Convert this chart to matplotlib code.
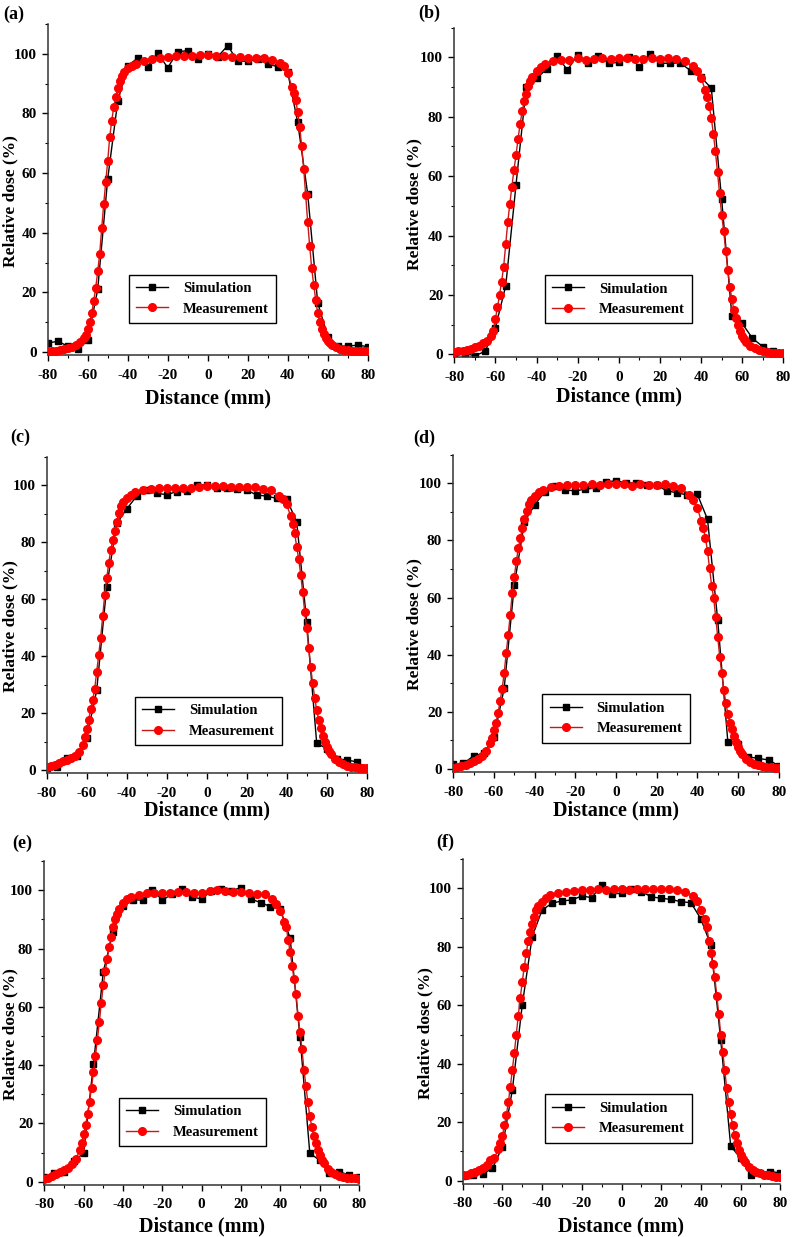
"""
plot.py
Dose profiles: simulation vs measurement, 6 panels (a)-(f)
"""

import matplotlib
matplotlib.use("Agg")
import matplotlib.pyplot as plt
from matplotlib.ticker import MultipleLocator

plt.rcParams['font.family'] = ['Liberation Serif', 'DejaVu Serif']
plt.rcParams['font.weight'] = 'bold'
plt.rcParams['axes.unicode_minus'] = False

# ===================== data =====================
PANEL_LABELS = ['(a)', '(b)', '(c)', '(d)', '(e)', '(f)']

# simulation sampled every 5 mm
x_sim = [-80, -75, -70, -65, -60, -55, -50, -45, -40, -35, -30, -25, -20, -15, -10, -5, 0,
         5, 10, 15, 20, 25, 30, 35, 40, 45, 50, 55, 60, 65, 70, 75, 80]

sim_a = [3.0, 3.6, 2.0, 1.0, 4.0, 21.0, 58.0, 84.0, 96.0, 98.5, 95.7, 100.3, 95.3, 100.7, 101.0, 98.2, 100.0,
         99.0, 102.7, 97.5, 97.5, 98.2, 96.5, 95.7, 93.8, 77.0, 53.0, 16.5, 5.2, 2.0, 2.0, 2.3, 1.8]
sim_b = [0.5, 0.3, -0.5, 1.0, 9.0, 23.0, 57.0, 90.0, 93.0, 96.0, 100.5, 95.7, 100.8, 98.0, 100.6, 98.0, 98.3,
         100.2, 96.9, 101.1, 98.0, 98.0, 98.0, 95.5, 93.3, 89.6, 52.3, 12.9, 10.4, 5.4, 2.6, 1.2, 0.3]
sim_c = [0.6, 1.2, 4.4, 4.9, 11.3, 28.0, 64.3, 86.5, 91.6, 96.1, 98.2, 97.1, 96.6, 97.7, 97.9, 100.0, 100.0,
         99.0, 98.8, 98.5, 98.2, 96.5, 96.1, 95.3, 95.0, 87.1, 52.0, 9.4, 7.5, 4.0, 3.5, 2.9, 0.6]
sim_d = [1.75, 2.0, 4.6, 5.5, 11.3, 28.2, 64.4, 86.6, 92.4, 97.1, 99.1, 97.7, 97.3, 98.0, 98.3, 100.6, 100.8,
         100.2, 100.0, 99.4, 99.4, 97.3, 96.7, 95.9, 96.1, 87.4, 52.2, 9.5, 8.8, 4.3, 3.7, 3.2, 1.2]
sim_e = [1.7, 2.9, 3.4, 7.2, 9.7, 40.4, 72.1, 85.8, 94.6, 96.7, 96.7, 100.1, 96.7, 98.7, 100.3, 97.8, 97.0,
         99.9, 100.3, 99.9, 100.9, 97.0, 95.8, 94.4, 93.5, 83.5, 49.8, 9.7, 7.4, 3.1, 3.4, 2.3, 1.7]
sim_f = [1.6, 1.9, 2.3, 4.2, 11.6, 31.0, 60.1, 83.5, 92.6, 94.9, 95.7, 96.0, 97.4, 96.8, 101.1, 98.1, 98.3,
         99.8, 98.9, 97.1, 96.6, 96.2, 95.4, 95.1, 89.5, 80.6, 48.1, 11.9, 7.6, 1.9, 2.7, 3.1, 2.7]

# measurement: dense on the penumbra, sparse on the plateau
x_meas = [-80, -78, -76, -74, -72, -70, -68, -66, -64, -62,
          -61, -60, -59, -58, -57, -56, -55, -54, -53, -52, -51, -50, -49, -48, -47, -46, -45, -44, -43,
          -42, -40, -38, -36,
          -32, -28, -24, -20, -16, -12, -8, -4, 0, 4, 8, 12, 16, 20, 24, 28, 32,
          36, 38, 40, 42,
          43, 44, 45, 46, 47, 48, 49, 50, 51, 52, 53, 54, 55, 56, 57, 58, 59, 60, 61,
          62, 64, 66, 68, 70, 72, 74, 76, 78, 80]

meas_a = [0.3, 0.4, 0.5, 0.7, 1.0, 1.3, 1.8, 2.5, 3.5, 4.8,
          5.8, 7.8, 10.2, 13.0, 17.0, 21.5, 27.0, 33.0, 41.5, 49.5, 57.0, 64.0, 72.0, 77.5, 82.0, 85.5, 88.5, 90.8, 92.6,
          93.8, 95.3, 96.0, 96.6,
          97.7, 98.3, 98.5, 99.0, 99.2, 99.3, 99.2, 99.6, 99.5, 99.3, 99.4, 99.0, 98.8, 98.6, 98.6, 98.5, 97.8,
          96.8, 96.0, 93.5, 89.0,
          87.0, 84.5, 80.5, 75.5, 69.0, 61.5, 52.5, 43.5, 35.5, 28.0, 22.5, 17.5, 13.0, 10.0, 7.8, 6.0, 4.8, 3.8, 3.0,
          2.4, 1.6, 1.1, 0.8, 0.6, 0.5, 0.4, 0.3, 0.3, 0.2]
meas_b = [0.9, 1.0, 1.2, 1.4, 1.8, 2.3, 2.9, 3.7, 4.6, 6.2,
          7.9, 12.0, 15.8, 20.0, 24.5, 29.5, 37.0, 44.5, 50.7, 56.5, 62.0, 67.0, 72.5, 77.5, 81.8, 85.2, 87.8, 90.2, 92.0,
          93.5, 95.4, 96.8, 97.7,
          98.8, 99.2, 99.1, 99.6, 99.0, 99.5, 99.7, 99.4, 99.6, 99.6, 99.5, 99.4, 99.8, 99.4, 99.7, 99.4, 98.6,
          97.0, 95.5, 93.2, 89.0,
          86.5, 83.5, 79.5, 74.2, 68.3, 61.3, 54.3, 47.0, 41.5, 34.8, 28.5, 22.8, 18.5, 15.0, 12.3, 10.0, 8.0, 6.1, 5.0,
          4.1, 2.8, 2.0, 1.4, 1.0, 0.8, 0.6, 0.5, 0.4, 0.4]
meas_c = [1.2, 1.5, 1.9, 2.4, 3.0, 3.6, 4.2, 5.0, 6.5, 8.9,
          11.7, 14.3, 17.7, 21.3, 24.5, 28.5, 34.5, 40.5, 46.5, 54.0, 61.5, 67.3, 72.5, 77.2, 80.6, 84.0, 87.0, 90.3, 92.5,
          94.0, 95.3, 96.6, 97.5,
          98.2, 98.7, 98.8, 99.0, 99.0, 99.1, 99.0, 99.3, 99.8, 99.5, 99.7, 99.3, 99.2, 99.4, 99.2, 98.6, 98.1,
          96.2, 95.0, 93.2, 89.0,
          86.3, 83.0, 78.3, 74.0, 68.6, 62.3, 55.5, 49.7, 42.7, 36.0, 30.4, 25.4, 21.0, 17.6, 14.8, 12.1, 10.0, 8.2, 6.8,
          5.6, 3.9, 2.8, 2.0, 1.5, 1.2, 1.0, 0.8, 0.7, 0.6]
meas_d = [0.3, 0.6, 1.0, 1.5, 2.1, 2.8, 3.6, 4.6, 6.2, 9.0,
          11.0, 13.5, 16.2, 19.6, 23.8, 28.0, 33.5, 40.5, 47.0, 54.0, 61.5, 67.3, 72.7, 77.4, 80.9, 84.4, 87.5, 90.4, 92.8,
          94.0, 95.6, 96.8, 97.5,
          98.6, 99.2, 99.3, 99.4, 99.5, 99.6, 99.4, 99.8, 99.7, 99.6, 99.2, 99.6, 99.5, 99.4, 99.6, 99.2, 98.4,
          96.0, 94.0, 91.3, 86.8,
          84.2, 80.7, 76.3, 70.2, 64.2, 60.0, 53.3, 46.3, 39.3, 33.6, 27.8, 23.2, 19.3, 16.2, 14.0, 11.7, 9.6, 7.8, 6.4,
          5.2, 3.6, 2.6, 1.9, 1.4, 1.1, 0.8, 0.6, 0.5, 0.4]
meas_e = [1.0, 1.3, 1.8, 2.7, 3.3, 4.0, 4.8, 6.0, 7.7, 10.8,
          13.4, 16.3, 19.3, 23.3, 27.5, 32.3, 37.6, 43.2, 48.8, 54.8, 61.5, 67.5, 72.2, 76.6, 80.7, 84.0, 87.3, 90.1, 92.0,
          93.6, 95.6, 96.9, 97.8,
          98.5, 99.2, 99.0, 99.2, 99.0, 99.3, 99.5, 99.2, 99.2, 99.7, 100.0, 99.8, 99.6, 99.4, 99.0, 98.8, 98.8,
          97.0, 95.2, 93.0, 89.3,
          87.5, 83.0, 78.8, 74.0, 69.5, 64.5, 57.0, 51.5, 45.5, 38.5, 33.0, 27.2, 22.5, 18.8, 15.6, 13.2, 11.0, 9.0, 7.5,
          6.3, 4.5, 3.3, 2.5, 2.0, 1.6, 1.4, 1.2, 1.1, 1.0]
meas_f = [1.8, 2.1, 2.6, 3.1, 3.6, 4.2, 5.3, 7.0, 7.9, 10.8,
          12.8, 15.3, 18.9, 22.5, 26.8, 32.0, 38.0, 43.6, 50.0, 56.5, 62.5, 68.0, 73.0, 77.8, 82.0, 85.0, 87.8, 90.3, 92.5,
          93.8, 95.3, 96.6, 97.6,
          98.4, 98.9, 99.2, 99.5, 99.4, 99.7, 99.3, 99.8, 99.8, 99.6, 99.8, 99.7, 99.9, 99.8, 99.7, 99.6, 98.8,
          97.5, 95.7, 92.6, 89.6,
          86.8, 82.0, 77.8, 74.2, 69.5, 63.3, 57.0, 50.0, 44.0, 37.8, 31.8, 27.0, 22.7, 19.0, 15.6, 12.8, 10.5, 8.8, 7.4,
          6.3, 4.7, 3.7, 3.0, 2.5, 2.1, 1.8, 1.6, 1.4, 1.3]

SIMS = [sim_a, sim_b, sim_c, sim_d, sim_e, sim_f]
MEAS = [meas_a, meas_b, meas_c, meas_d, meas_e, meas_f]

# ===================== layout (pixels of the 792x1237 image) =====================
W, H = 792, 1237
# left, right, top (y=110), bottom (y=-1)
BOXES = [(47.7, 367.7, 23.9, 355.0),
         (454.3, 783.3, 27.6, 357.3),
         (46.7, 366.7, 456.5, 772.9),
         (453.3, 778.7, 454.7, 771.9),
         (44.3, 359.0, 861.2, 1184.6),
         (462.7, 780.3, 859.1, 1183.6)]
LEG_POS = [(0.254, 0.097), (0.276, 0.103), (0.276, 0.088),
           (0.274, 0.092), (0.237, 0.119), (0.259, 0.126)]
LABEL_POS = [(3, 14), (418, 13), (10, 437), (413, 438), (12, 843), (436, 842)]
YLAB_RIGHT = [18.5, 422, 18.5, 422, 18.5, 433]     # right edge of the rotated y label (px)
XLAB_TOP = [-0.100, -0.090, -0.088, -0.089, -0.099, -0.102]


def main():
    fig = plt.figure(figsize=(W / 100, H / 100), dpi=100)

    for i in range(6):
        l, r, t, b = BOXES[i]
        ax = fig.add_axes([l / W, 1 - b / H, (r - l) / W, (b - t) / H])

        ax.plot(x_sim, SIMS[i], color='black', lw=1.0, marker='s', ms=5,
                mfc='black', mec='black', label='Simulation', zorder=2)
        ax.plot(x_meas, MEAS[i], color='#c81818', lw=1.0, marker='o', ms=5.5,
                mfc='#ff0000', mec='#ff0000', label='Measurement', zorder=3)

        ax.set_xlim(-80, 80)
        ax.set_ylim(-1, 110)
        ax.xaxis.set_major_locator(MultipleLocator(20))
        ax.xaxis.set_minor_locator(MultipleLocator(10))
        ax.yaxis.set_minor_locator(MultipleLocator(10))
        ax.set_yticks([0, 20, 40, 60, 80, 100])

        for s in ['top', 'right']:
            ax.spines[s].set_visible(False)
        for s in ['left', 'bottom']:
            ax.spines[s].set_linewidth(1.1)
            ax.spines[s].set_color('#333333')
        ax.tick_params(which='major', direction='out', length=4.5, width=1.0, labelsize=11)
        ax.tick_params(axis='x', which='major', pad=5.5)
        ax.tick_params(axis='y', which='major', pad=3.5)
        ax.tick_params(which='minor', direction='out', length=2.5, width=0.8)

        ax.set_xlabel('Distance (mm)', fontsize=14.5, fontweight='bold')
        ax.set_ylabel('Relative dose (%)', fontsize=12.5, fontweight='bold')
        ax.xaxis.set_label_coords(0.5, XLAB_TOP[i])
        ax.yaxis.set_label_coords((YLAB_RIGHT[i] - l) / (r - l), 0.465)

        leg = ax.legend(loc='lower left', bbox_to_anchor=LEG_POS[i], borderaxespad=0,
                        fancybox=False, framealpha=1, edgecolor='black', numpoints=1,
                        handlelength=2.2, handletextpad=1.0, borderpad=0.5, labelspacing=0.5,
                        prop={'size': 10.5, 'weight': 'bold'})
        leg.get_frame().set_linewidth(1.0)

        lx, ly = LABEL_POS[i]
        fig.text(lx / W, 1 - ly / H, PANEL_LABELS[i], fontsize=13, fontweight='bold',
                 ha='left', va='center')

    fig.savefig('out.png', dpi=100)


if __name__ == "__main__":
    main()
